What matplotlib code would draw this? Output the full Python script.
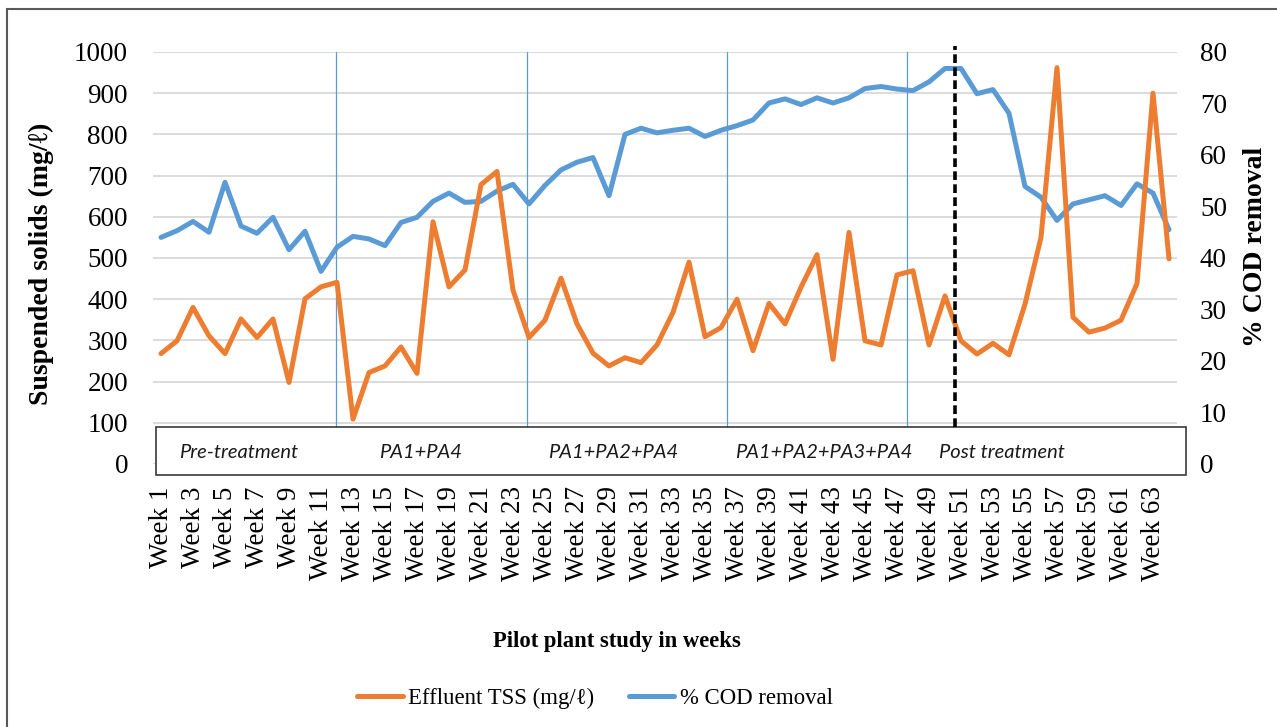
import matplotlib
matplotlib.use("Agg")
import matplotlib.pyplot as plt
from matplotlib.patches import Rectangle
from matplotlib.transforms import blended_transform_factory

# ---------------- data ----------------
weeks = list(range(1, 65))
tss = [268, 299, 380, 311, 268, 352, 307, 352, 198, 401,
       430, 441, 109, 222, 238, 284, 220, 588, 430, 471,
       678, 710, 422, 307, 349, 451, 340, 269, 238, 258,
       246, 289, 368, 490, 309, 331, 400, 275, 390, 340,
       429, 508, 254, 562, 299, 289, 459, 469, 289, 408,
       299, 267, 293, 265, 388, 550, 962, 356, 320, 330,
       349, 438, 900, 498]
cod = [44.0, 45.3, 47.1, 45.0, 54.7, 46.2, 44.8, 47.9, 41.6, 45.2,
       37.4, 42.1, 44.2, 43.7, 42.4, 46.9, 47.9, 51.0, 52.6, 50.8,
       51.0, 53.0, 54.3, 50.5, 54.1, 57.1, 58.6, 59.5, 52.1, 64.0,
       65.2, 64.3, 64.8, 65.2, 63.6, 64.8, 65.7, 66.8, 70.1, 70.9,
       69.8, 71.1, 70.1, 71.1, 72.9, 73.3, 72.8, 72.5, 74.2, 76.8,
       76.8, 71.9, 72.7, 68.1, 53.9, 51.8, 47.3, 50.5, 51.3, 52.1,
       50.2, 54.4, 52.6, 45.5]
tick_weeks = list(range(1, 65, 2))
tick_labels = [f"Week {w}" for w in tick_weeks]
left_ticks = list(range(0, 1001, 100))
right_ticks = list(range(0, 81, 10))
phase_names = ["Pre-treatment", "PA1+PA4", "PA1+PA2+PA4", "PA1+PA2+PA3+PA4", "Post treatment"]
phase_label_x = [2.12, 14.6, 25.2, 36.9, 49.6]
phase_bounds = [11.92, 23.9, 36.4, 47.6]
post_start = 50.6

ORANGE = "#ED7D31"
BLUE = "#5B9BD5"
SERIF = ["Liberation Serif", "DejaVu Serif"]

plt.rcParams["font.family"] = SERIF

W, H = 1277, 727
fig = plt.figure(figsize=(W / 100, H / 100), dpi=100)
ax = fig.add_axes([153 / W, 1 - 464 / H, 1024 / W, 412 / H])
ax2 = ax.twinx()

ax.set_xlim(0.5, 64.5)
ax.set_ylim(0, 1000)
ax2.set_ylim(0, 80)

# gridlines
ax.set_yticks(left_ticks)
ax.grid(axis="y", color="#D9D9D9", lw=1.3, zorder=0)
ax.set_axisbelow(True)
for a in (ax, ax2):
    for s in a.spines.values():
        s.set_visible(False)

# phase separators
for b in phase_bounds:
    ax.axvline(b, ymin=0.0898, ymax=1.0, color=BLUE, lw=0.9, zorder=1)

# series (COD drawn in ax using ax2's scale so TSS can sit on top)
l_cod, = ax.plot(weeks, cod, color=BLUE, lw=3.6, solid_joinstyle="round",
                 solid_capstyle="round", transform=ax2.transData, zorder=2,
                 label="% COD removal")
l_tss, = ax.plot(weeks, tss, color=ORANGE, lw=3.6, solid_joinstyle="round",
                 solid_capstyle="round", zorder=3, label="Effluent TSS (mg/\u2113)")

# post-treatment dashed line
ax.axvline(post_start, ymin=0.0898, ymax=1.015, color="black", lw=2.6,
           dashes=(2.4, 1.2), zorder=5, clip_on=False)

# phase box
box = Rectangle((0.0029, -0.0267), 1.0059, 0.1165, transform=ax.transAxes,
                facecolor="white", edgecolor="#3a3a3a", lw=1.2, clip_on=False, zorder=4)
ax.add_patch(box)
trans = blended_transform_factory(ax.transData, ax.transAxes)
for name, x in zip(phase_names, phase_label_x):
    ax.text(x, 0.028, name, transform=trans, ha="left", va="center",
            fontsize=14.5, style="italic", family=["Lato", "DejaVu Sans"],
            color="#1a1a1a", zorder=6)

# ticks
ax.set_xticks(tick_weeks)
ax.set_xticklabels(tick_labels, rotation=90, fontsize=19.5, va="top", ha="center")
ax.tick_params(axis="x", length=0, pad=16)
ax.tick_params(axis="y", length=0, pad=18, labelsize=19.5)
ax2.set_yticks(right_ticks)
ax2.tick_params(axis="y", length=0, pad=16.5, labelsize=19.5)

# labels
fig.text(617 / W, 1 - 641 / H, "Pilot plant study in weeks", ha="center", va="center",
         fontsize=16.3, fontweight="bold")
fig.text(41 / W, 1 - 264 / H, "Suspended solids (mg/\u2113)", ha="center", va="center",
         rotation=90, fontsize=20, fontweight="bold")
fig.text(1256 / W, 1 - 247 / H, "% COD removal", ha="center", va="center",
         rotation=90, fontsize=20, fontweight="bold")

fig.legend([l_tss, l_cod], ["Effluent TSS (mg/\u2113)", "% COD removal"],
           loc="center", bbox_to_anchor=(595 / W, 1 - 698 / H), ncol=2,
           frameon=False, fontsize=16.4, handlelength=2.0, handletextpad=0.25,
           columnspacing=1.5)

# outer frame (top and left edges visible)
frame = Rectangle((7 / W, -0.05), 1.0, 1.05 - 9 / H, transform=fig.transFigure,
                  facecolor="none", edgecolor="#595959", lw=1.5, clip_on=False)
fig.add_artist(frame)

fig.savefig("out.png", dpi=100)
